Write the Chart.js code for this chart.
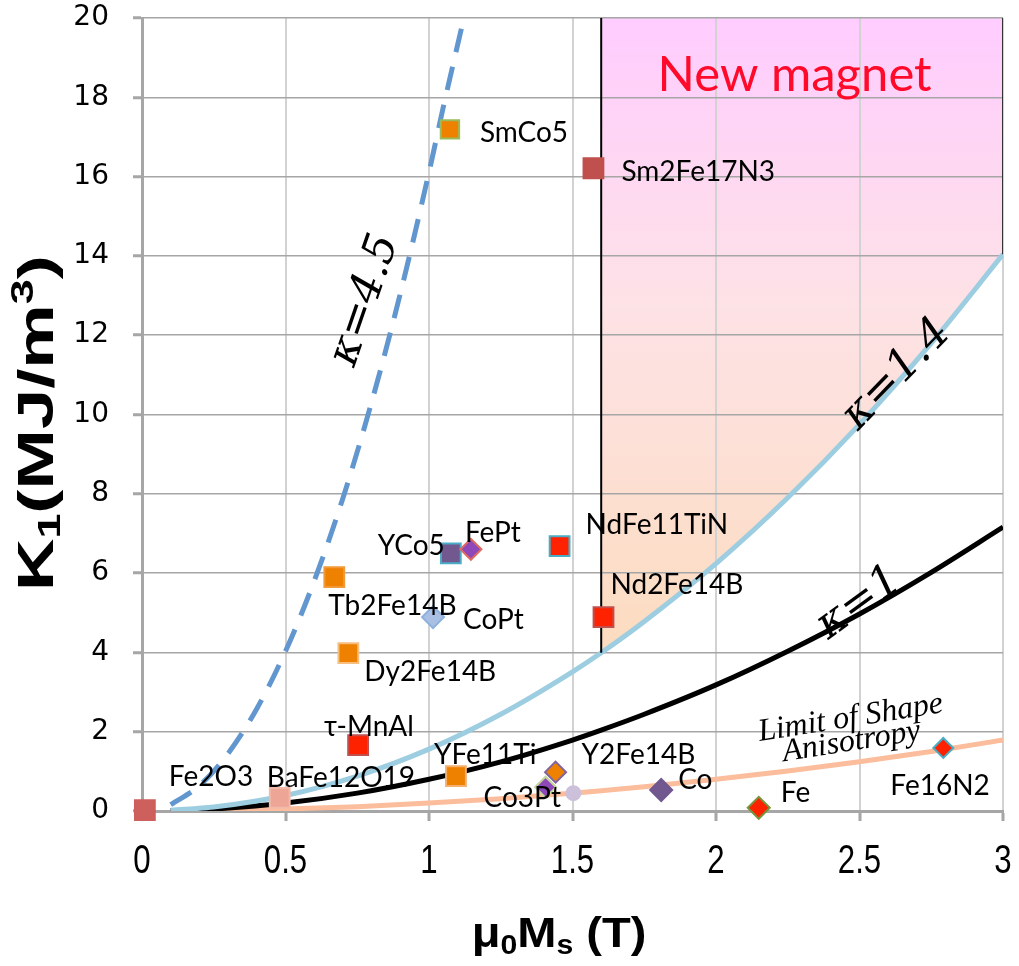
<!DOCTYPE html>
<html>
<head>
<meta charset="utf-8">
<script src="https://cdn.jsdelivr.net/npm/chart.js@4.4.1/dist/chart.umd.min.js"></script>
<style>
  html, body { margin: 0; padding: 0; background: #fff; }
  #wrap { width: 1019px; height: 966px; }
</style>
</head>
<body>
<div id="wrap"><canvas id="chart" width="1019" height="966"></canvas></div>
<script>
// ---------- Data ----------
const xTickValues = [0, 0.5, 1, 1.5, 2, 2.5, 3];
const xTickLabels = ['0', '0.5', '1', '1.5', '2', '2.5', '3'];
const yTickValues = [0, 2, 4, 6, 8, 10, 12, 14, 16, 18, 20];

// materials: mu0Ms (T) vs K1 (MJ/m3)
const materialNames = ['Fe2O3', 'BaFe12O19', 'SmCo5', 'Sm2Fe17N3', 'YCo5', 'FePt', 'NdFe11TiN', 'Nd2Fe14B',
  'Tb2Fe14B', 'CoPt', 'Dy2Fe14B', 'τ-MnAl', 'YFe11Ti', 'Y2Fe14B', 'Co3Pt', '', 'Co', 'Fe', 'Fe16N2'];
const materialX = [0.01, 0.48, 1.073, 1.573, 1.076, 1.146, 1.455, 1.608,
  0.67, 1.014, 0.719, 0.753, 1.094, 1.441, 1.406, 1.503, 1.809, 2.149, 2.792];
const materialY = [0.02, 0.33, 17.19, 16.21, 6.5, 6.6, 6.68, 4.89,
  5.9, 4.89, 3.98, 1.66, 0.88, 0.98, 0.6, 0.45, 0.53, 0.08, 1.59];

// curves
const curveX   = [0.1, 0.25, 0.5, 0.75, 1.0, 1.25, 1.5, 1.6, 1.75, 2.0, 2.25, 2.5, 2.75, 3.0];
const kappa14Y = [0.02, 0.1, 0.39, 0.88, 1.56, 2.44, 3.51, 3.99, 4.78, 6.24, 7.9, 9.75, 11.8, 14.04];
const kappa1Y  = [0.01, 0.05, 0.2, 0.45, 0.8, 1.24, 1.79, 2.04, 2.44, 3.18, 4.03, 4.97, 6.02, 7.16];
const shapeY   = [0.0, 0.01, 0.05, 0.11, 0.2, 0.31, 0.45, 0.51, 0.61, 0.8, 1.01, 1.24, 1.5, 1.79];
const kappa45X = [0.1, 0.2, 0.3, 0.4, 0.5, 0.6, 0.7, 0.8, 0.9, 1.0, 1.05, 1.115];
const kappa45Y = [0.16, 0.64, 1.45, 2.58, 4.03, 5.8, 7.89, 10.31, 13.05, 16.11, 17.76, 19.8];

const newMagnetMinX = 1.6;
const yMax = 20;

// ---------- Styles ----------
const SQ = 14, DM = 10.5;
const markerStyles = {
  'Fe2O3':     { shape: 'rect',    r: SQ, fill: '#cd5f5c', line: '#cd5f5c' },
  'BaFe12O19': { shape: 'rect',    r: SQ, fill: '#eda695', line: '#f2b9aa' },
  'SmCo5':     { shape: 'rect',    r: 13, fill: '#ee8100', line: '#9bbb59' },
  'Sm2Fe17N3': { shape: 'rect',    r: SQ, fill: '#c0504d', line: '#c0504d' },
  'YCo5':      { shape: 'rect',    r: SQ, fill: '#71588f', line: '#4bacc6' },
  'FePt':      { shape: 'rectRot', r: DM, fill: '#8e48b8', line: '#e06a60' },
  'NdFe11TiN': { shape: 'rect',    r: SQ, fill: '#ff2200', line: '#4bacc6' },
  'Nd2Fe14B':  { shape: 'rect',    r: SQ, fill: '#ff2200', line: '#c0504d' },
  'Tb2Fe14B':  { shape: 'rect',    r: SQ, fill: '#ee8100', line: '#f29a3a' },
  'CoPt':      { shape: 'rectRot', r: 11, fill: '#a9bfe4', line: '#8db0dc' },
  'Dy2Fe14B':  { shape: 'rect',    r: SQ, fill: '#ee8100', line: '#f7bf7f' },
  'τ-MnAl':    { shape: 'rect',    r: SQ, fill: '#ff2200', line: '#c0504d' },
  'YFe11Ti':   { shape: 'rect',    r: SQ, fill: '#ee8100', line: '#f5b070' },
  'Y2Fe14B':   { shape: 'rectRot', r: DM, fill: '#ee8100', line: '#8064a2' },
  'Co3Pt':     { shape: 'rectRot', r: DM, fill: '#8e48b8', line: '#c3d69b' },
  '':          { shape: 'circle',  r: 7,  fill: '#ccc0da', line: '#ccc0da' },
  'Co':        { shape: 'rectRot', r: 11, fill: '#71588f', line: '#71588f' },
  'Fe':        { shape: 'rectRot', r: 11, fill: '#ff2200', line: '#77933c' },
  'Fe16N2':    { shape: 'rectRot', r: 10, fill: '#ff2200', line: '#4bacc6' }
};
// text offsets from the marker in px: [dx, dy, align]
const labelOffsets = {
  'Fe2O3': [24, -33], 'BaFe12O19': [-13, -20], 'SmCo5': [30, 4], 'Sm2Fe17N3': [28, 4],
  'YCo5': [-6, -7, 'right'], 'FePt': [-6, -16], 'NdFe11TiN': [26, -21], 'Nd2Fe14B': [7, -32],
  'Tb2Fe14B': [-6, 29], 'CoPt': [30, 3], 'Dy2Fe14B': [16, 19], 'τ-MnAl': [-34, -18],
  'YFe11Ti': [-22, -21], 'Y2Fe14B': [26, -17], 'Co3Pt': [-62, 11], 'Co': [17, -10],
  'Fe': [22, -15], 'Fe16N2': [-53, 38]
};

// annotation texts placed in data units
const annotations = [
  { text: 'New magnet', x: 2.274, y: 18.55, angle: 0, font: '49px Lato', color: '#ff0a2a' },
  { text: 'κ=4.5', x: 0.778, y: 12.88, angle: -71, font: 'italic 44px "DejaVu Serif"', color: '#000' },
  { text: 'κ=1.4', x: 2.63, y: 11.0, angle: -46, font: 'italic 44px "DejaVu Serif"', color: '#000' },
  { text: 'κ=1', x: 2.5, y: 5.24, angle: -36, font: 'italic 44px "DejaVu Serif"', color: '#000' },
  { text: 'Limit of Shape', x: 2.469, y: 2.34, angle: -9, font: 'italic 32px "Liberation Serif"', color: '#000' },
  { text: 'Anisotropy', x: 2.472, y: 1.74, angle: -9, font: 'italic 32px "Liberation Serif"', color: '#000' }
];

// ---------- Helpers ----------
const toPts = (xs, ys) => xs.map((x, i) => ({ x, y: ys[i] }));
const idx16 = curveX.indexOf(newMagnetMinX);
const regionPts = toPts(curveX, kappa14Y).filter(p => p.x >= newMagnetMinX);

function regionGradient(ctx) {
  const chart = ctx.chart;
  if (!chart.chartArea) return 'rgba(255,210,240,0.8)';
  const ys = chart.scales.y;
  const g = chart.ctx.createLinearGradient(0, ys.getPixelForValue(yMax), 0, ys.getPixelForValue(kappa14Y[idx16]));
  g.addColorStop(0, '#ffccff');
  g.addColorStop(0.45, '#fde2e6');
  g.addColorStop(1, '#fcdcbf');
  return g;
}

function richText(ctx, parts, x, y, align) {
  let w = 0;
  parts.forEach(p => { ctx.font = p.font; w += ctx.measureText(p.t).width; });
  let cx = align === 'center' ? x - w / 2 : x;
  parts.forEach(p => {
    ctx.font = p.font;
    ctx.fillText(p.t, cx, y + (p.dy || 0));
    cx += ctx.measureText(p.t).width;
  });
}

function noPadding(s) {
  s.paddingLeft = s.paddingRight = s.paddingTop = s.paddingBottom = 0;
}

// ---------- Plugins ----------
const labelPlugin = {
  id: 'pointLabels',
  afterDatasetsDraw(chart) {
    const { ctx, scales: { x, y } } = chart;
    ctx.save();
    ctx.fillStyle = '#000';
    ctx.font = '28px Lato';
    ctx.textBaseline = 'middle';
    materialNames.forEach((name, i) => {
      if (!name) return;
      const off = labelOffsets[name];
      ctx.textAlign = off[2] || 'left';
      ctx.fillText(name, x.getPixelForValue(materialX[i]) + off[0], y.getPixelForValue(materialY[i]) + off[1]);
    });
    annotations.forEach(a => {
      ctx.save();
      ctx.translate(x.getPixelForValue(a.x), y.getPixelForValue(a.y));
      ctx.rotate(a.angle * Math.PI / 180);
      ctx.font = a.font;
      ctx.fillStyle = a.color;
      ctx.textAlign = 'center';
      ctx.fillText(a.text, 0, 0);
      ctx.restore();
    });
    ctx.restore();
  }
};

const axisTextPlugin = {
  id: 'axisTexts',
  afterDraw(chart) {
    const { ctx, chartArea, scales: { x } } = chart;
    ctx.save();
    ctx.fillStyle = '#000';
    ctx.textBaseline = 'alphabetic';

    // x tick labels, narrow and tall like the original
    ctx.font = '40px "Liberation Sans"';
    ctx.textAlign = 'center';
    xTickValues.forEach((v, i) => {
      ctx.save();
      ctx.translate(x.getPixelForValue(v), chartArea.bottom + 62);
      ctx.scale(0.78, 1);
      ctx.fillText(xTickLabels[i], 0, 0);
      ctx.restore();
    });

    ctx.textAlign = 'left';
    // y title (stretched along its length like the original)
    const big = 'bold 50px "Liberation Sans"', small = 'bold 31px "Liberation Sans"';
    ctx.save();
    ctx.translate(53, 423);
    ctx.rotate(-Math.PI / 2);
    ctx.scale(1.45, 1);
    richText(ctx, [
      { t: 'K', font: big }, { t: '1', font: small, dy: 7 },
      { t: '(MJ/m', font: big }, { t: '3', font: small, dy: -20 }, { t: ')', font: big }
    ], 0, 0, 'center');
    ctx.restore();

    // x title
    const bx = 'bold 42px "Liberation Sans"', sx = 'bold 27px "Liberation Sans"';
    ctx.save();
    ctx.translate(559, 947);
    ctx.scale(1.12, 1);
    richText(ctx, [
      { t: 'μ', font: bx }, { t: '0', font: sx, dy: 7 }, { t: 'M', font: bx },
      { t: 's', font: sx, dy: 7 }, { t: ' (T)', font: bx }
    ], 0, 0, 'center');
    ctx.restore();
    ctx.restore();
  }
};

// ---------- Datasets ----------
const pointStyles = materialNames.map(n => markerStyles[n]);
const datasets = [
  {
    label: 'materials', type: 'scatter', order: 0, clip: false,
    data: toPts(materialX, materialY),
    pointStyle: pointStyles.map(s => s.shape),
    pointRadius: pointStyles.map(s => s.r),
    pointBackgroundColor: pointStyles.map(s => s.fill),
    pointBorderColor: pointStyles.map(s => s.line),
    pointBorderWidth: 2,
    showLine: false
  },
  {
    label: 'kappa 4.5', type: 'line', order: 1, data: toPts(kappa45X, kappa45Y),
    borderColor: '#6196cf', borderWidth: 5, borderDash: [24, 15], pointRadius: 0,
    cubicInterpolationMode: 'monotone', fill: false, clip: false
  },
  {
    label: 'region edge', type: 'line', order: 2,
    data: [{ x: newMagnetMinX, y: kappa14Y[idx16] }, { x: newMagnetMinX, y: yMax }],
    borderColor: '#000', borderWidth: 2, pointRadius: 0, fill: false
  },
  {
    label: 'region right edge', type: 'line', order: 2,
    data: [{ x: curveX[curveX.length - 1], y: kappa14Y[kappa14Y.length - 1] }, { x: curveX[curveX.length - 1], y: yMax }],
    borderColor: '#333', borderWidth: 2, pointRadius: 0, fill: false
  },
  {
    label: 'kappa 1.4', type: 'line', order: 3, data: toPts(curveX, kappa14Y),
    borderColor: '#9dcde0', borderWidth: 5, pointRadius: 0,
    cubicInterpolationMode: 'monotone', fill: false
  },
  {
    label: 'kappa 1', type: 'line', order: 4, data: toPts(curveX, kappa1Y),
    borderColor: '#000', borderWidth: 5, pointRadius: 0,
    cubicInterpolationMode: 'monotone', fill: false
  },
  {
    label: 'shape limit', type: 'line', order: 5, data: toPts(curveX, shapeY),
    borderColor: '#fbbd9c', borderWidth: 5, pointRadius: 0,
    cubicInterpolationMode: 'monotone', fill: false
  },
  {
    label: 'new magnet', type: 'line', order: 10, data: regionPts,
    borderWidth: 0, borderColor: 'rgba(0,0,0,0)', pointRadius: 0,
    backgroundColor: regionGradient, cubicInterpolationMode: 'monotone', fill: 'end'
  }
];

// ---------- Chart ----------
new Chart(document.getElementById('chart'), {
  type: 'scatter',
  data: { datasets },
  options: {
    responsive: false,
    animation: false,
    devicePixelRatio: 1,
    layout: { padding: { top: 18, right: 13, left: 0, bottom: 0 } },
    plugins: {
      legend: { display: false },
      tooltip: { enabled: false },
      filler: { drawTime: 'beforeDraw' }
    },
    scales: {
      x: {
        type: 'linear', min: 0, max: 3,
        afterBuildTicks: s => { s.ticks = xTickValues.map(v => ({ value: v })); },
        afterFit: s => { s.height = 155; noPadding(s); },
        ticks: { display: false },
        grid: { color: '#d2d2d2', lineWidth: 2, tickLength: 10, tickColor: '#a6a6a6', tickWidth: 3 },
        border: { color: '#a6a6a6', width: 3 }
      },
      y: {
        type: 'linear', min: 0, max: yMax,
        afterBuildTicks: s => { s.ticks = yTickValues.map(v => ({ value: v })); },
        afterFit: s => { s.width = 142; noPadding(s); },
        ticks: {
          color: '#000', padding: 24,
          font: { family: '"DejaVu Sans"', size: 28 }
        },
        grid: { color: '#a6a6a6', lineWidth: 1.5, tickLength: 9, tickColor: '#a6a6a6', tickWidth: 3 },
        border: { color: '#a6a6a6', width: 3 }
      }
    }
  },
  plugins: [labelPlugin, axisTextPlugin]
});
</script>
</body>
</html>
